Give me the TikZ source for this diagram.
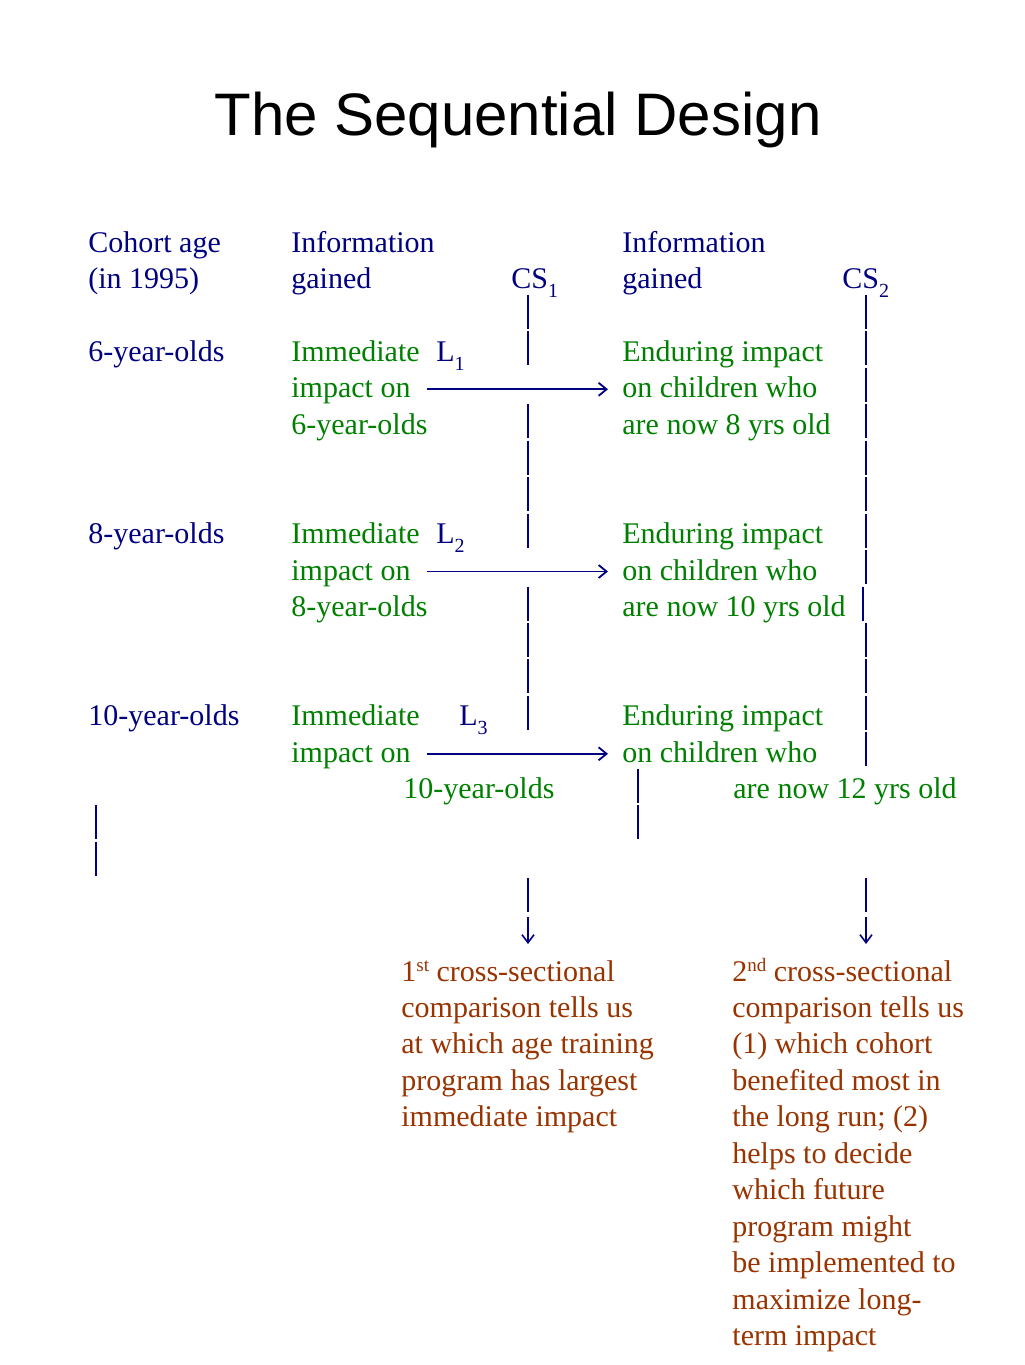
\documentclass[tikz,border=0pt]{standalone}
\usepackage{fontspec}
\setmainfont{Liberation Serif}
\newfontfamily\titlefont{Liberation Sans}
\usetikzlibrary{arrows.meta}
\definecolor{navy}{RGB}{0,0,128}
\definecolor{grn}{RGB}{0,128,0}
\definecolor{brn}{RGB}{153,51,0}
\tikzset{
  txt/.style={anchor=base west, inner sep=0pt, font=\fontsize{15}{18}\selectfont},
  blu/.style={txt, text=navy},
  gr/.style={txt, text=grn},
  br/.style={txt, text=brn},
  harr/.style={draw=navy, line width=0.9pt, -{Straight Barb[length=4pt,width=6.5pt]}},
  varr/.style={draw=navy, line width=0.8pt, -{Straight Barb[length=4pt,width=6pt]}},
  bar/.style={draw=navy, line width=0.8pt}
}
\newcommand\rowy[1]{252+36.45*#1}
\newcommand\mysub[1]{\raisebox{-4.5pt}{\fontsize{10}{12}\selectfont #1}}
\newcommand\mysup[1]{\raisebox{5pt}{\fontsize{9.5}{12}\selectfont #1}}
\newcommand\barat[2]{\draw[bar] (#1,{242+36.45*#2-20}) -- (#1,{242+36.45*#2+14});}
\begin{document}
\begin{tikzpicture}[x=0.5pt,y=-0.5pt]
\useasboundingbox (0,0) rectangle (1024,1365);
% title
\node[anchor=base, inner sep=0pt, font=\titlefont\fontsize{30}{36}\selectfont] (title) at (518,135) {The Sequential Design};
% headers
\node[blu] (coh1) at (88,{\rowy{0}}) {Cohort age};
\node[blu] (coh2) at (88,{\rowy{1}}) {(in 1995)};
\node[blu] (inf1) at (291,{\rowy{0}}) {Information};
\node[blu] (gain1) at (291,{\rowy{1}}) {gained};
\node[blu] (cs1) at (511,{\rowy{1}}) {CS\mysub{1}};
\node[blu] (inf2) at (622,{\rowy{0}}) {Information};
\node[blu] (gain2) at (622,{\rowy{1}}) {gained};
\node[blu] (cs2) at (842,{\rowy{1}}) {CS\mysub{2}};
% cohort 6
\node[blu] (c6) at (88,{\rowy{3}}) {6-year-olds};
\node[gr] (imm1) at (291,{\rowy{3}}) {Immediate};
\node[blu] (l1) at (436,{\rowy{3}}) {L\mysub{1}};
\node[gr] (imp1) at (291,{\rowy{4}}) {impact on};
\node[gr] (y6) at (291,{\rowy{5}}) {6-year-olds};
\node[gr] (end1) at (622,{\rowy{3}}) {Enduring impact};
\node[gr] (och1) at (622,{\rowy{4}}) {on children who};
\node[gr] (now8) at (622,{\rowy{5}}) {are now 8 yrs old};
% cohort 8
\node[blu] (c8) at (88,{\rowy{8}}) {8-year-olds};
\node[gr] (imm2) at (291,{\rowy{8}}) {Immediate};
\node[blu] (l2) at (436,{\rowy{8}}) {L\mysub{2}};
\node[gr] (imp2) at (291,{\rowy{9}}) {impact on};
\node[gr] (y8) at (291,{\rowy{10}}) {8-year-olds};
\node[gr] (end2) at (622,{\rowy{8}}) {Enduring impact};
\node[gr] (och2) at (622,{\rowy{9}}) {on children who};
\node[gr] (now10) at (622,{\rowy{10}}) {are now 10 yrs old};
% cohort 10
\node[blu] (c10) at (88,{\rowy{13}}) {10-year-olds};
\node[gr] (imm3) at (291,{\rowy{13}}) {Immediate};
\node[blu] (l3) at (459,{\rowy{13}}) {L\mysub{3}};
\node[gr] (imp3) at (291,{\rowy{14}}) {impact on};
\node[gr] (y10) at (403,{\rowy{15}}) {10-year-olds};
\node[gr] (end3) at (622,{\rowy{13}}) {Enduring impact};
\node[gr] (och3) at (622,{\rowy{14}}) {on children who};
\node[gr] (now12) at (733,{\rowy{15}}) {are now 12 yrs old};
% horizontal arrows
\coordinate (a1s) at (427,389.3); \coordinate (a1e) at (608,389.3);
\coordinate (a2s) at (427,571.5); \coordinate (a2e) at (608,571.5);
\coordinate (a3s) at (427,753.8); \coordinate (a3e) at (608,753.8);
\draw[harr] (a1s) -- (a1e);
\draw[harr] (a2s) -- (a2e);
\draw[harr] (a3s) -- (a3e);
% CS1 bars
\foreach \k in {2,3,5,6,7,8,10,11,12,13,18} {\barat{528}{\k}}
% CS2 bars
\foreach \k in {2,3,4,5,6,7,8,9,11,12,13,14,18} {\barat{866}{\k}}
\barat{863}{10}
% other bars
\foreach \k in {15,16} {\barat{638}{\k}}
\foreach \k in {16,17} {\barat{96}{\k}}
% down arrows
\coordinate (d1s) at (528,917); \coordinate (d1e) at (528,944);
\coordinate (d2s) at (866,917); \coordinate (d2e) at (866,944);
\draw[varr] (d1s) -- (d1e);
\draw[varr] (d2s) -- (d2e);
% bottom texts
\node[br] (b1a) at (401,{\rowy{20}}) {1\mysup{st} cross-sectional};
\node[br] (b1b) at (401,{\rowy{21}}) {comparison tells us};
\node[br] (b1c) at (401,{\rowy{22}}) {at which age training};
\node[br] (b1d) at (401,{\rowy{23}}) {program has largest};
\node[br] (b1e) at (401,{\rowy{24}}) {immediate impact};
\node[br] (b2a) at (732,{\rowy{20}}) {2\mysup{nd} cross-sectional};
\node[br] (b2b) at (732,{\rowy{21}}) {comparison tells us};
\node[br] (b2c) at (732,{\rowy{22}}) {(1) which cohort};
\node[br] (b2d) at (732,{\rowy{23}}) {benefited most in};
\node[br] (b2e) at (732,{\rowy{24}}) {the long run; (2)};
\node[br] (b2f) at (732,{\rowy{25}}) {helps to decide};
\node[br] (b2g) at (732,{\rowy{26}}) {which future};
\node[br] (b2h) at (732,{\rowy{27}}) {program might};
\node[br] (b2i) at (732,{\rowy{28}}) {be implemented to};
\node[br] (b2j) at (732,{\rowy{29}}) {maximize long-};
\node[br] (b2k) at (732,{\rowy{30}}) {term impact};
\end{tikzpicture}
\end{document}
